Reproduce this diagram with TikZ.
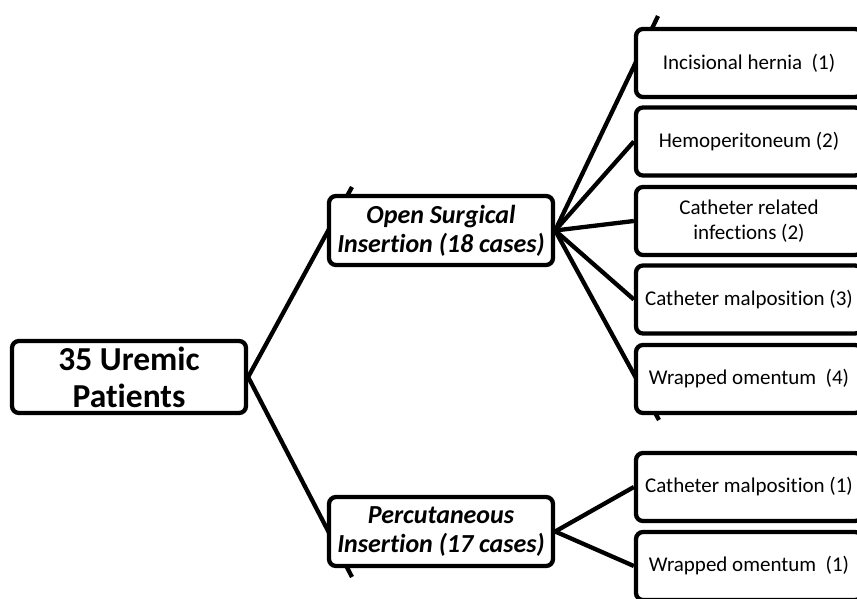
\documentclass[tikz,border=0pt]{standalone}
\usepackage{fontspec}
\setmainfont[Ligatures=NoCommon]{Carlito}
\usetikzlibrary{backgrounds}
\begin{document}
\begin{tikzpicture}[x=1pt,y=-1pt,
  box/.style={draw=black,line width=4.3pt,rounded corners=7pt,fill=white,align=center,inner sep=0pt},
  rootbox/.style={box,minimum width=234pt,minimum height=72pt,font=\fontsize{33.5}{37}\selectfont\bfseries},
  midbox/.style={box,minimum width=224pt,minimum height=69pt,font=\fontsize{26}{29}\selectfont\bfseries\itshape},
  leafbox/.style={box,minimum width=226pt,minimum height=68pt,font=\fontsize{21}{25}\selectfont},
  conn/.style={line width=4.3pt,draw=black}]
\useasboundingbox (0,0) rectangle (857,599);
\node[rootbox] (root) at (129,377) {35 Uremic\\Patients};
\node[midbox] (open) at (441,230.5) {Open Surgical\\Insertion (18 cases)};
\node[midbox] (perc) at (441,531.5) {Percutaneous\\Insertion (17 cases)};
\node[leafbox] (inc) at (749,63) {Incisional hernia\ \ (1)};
\node[leafbox] (hemo) at (749,141.5) {Hemoperitoneum (2)};
\node[leafbox] (cath) at (749,221) {Catheter related\\infections (2)};
\node[leafbox] (malpa) at (749,299.5) {Catheter malposition (3)};
\node[leafbox] (wrapa) at (749,379) {Wrapped omentum\ \ (4)};
\node[leafbox] (malpb) at (749,487) {Catheter malposition (1)};
\node[leafbox] (wrapb) at (749,566) {Wrapped omentum\ \ (1)};
\coordinate (t1) at (352,187);
\coordinate (t2) at (352,577);
\coordinate (t3) at (658,16);
\coordinate (t4) at (659,420);
\begin{pgfonlayer}{background}
\draw[conn] (root.east) -- (t1);
\draw[conn] (root.east) -- (t2);
\draw[conn] (open.east) -- (t3);
\draw[conn] (open.east) -- (hemo.west);
\draw[conn] (open.east) -- (cath.west);
\draw[conn] (open.east) -- (malpa.west);
\draw[conn] (open.east) -- (t4);
\draw[conn] (perc.east) -- (malpb.west);
\draw[conn] (perc.east) -- (wrapb.west);
\end{pgfonlayer}
\end{tikzpicture}
\end{document}
